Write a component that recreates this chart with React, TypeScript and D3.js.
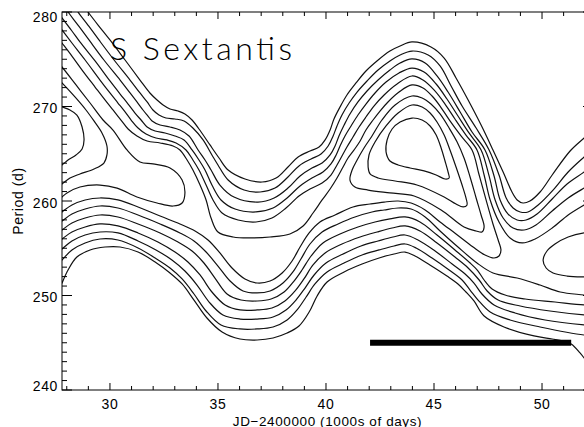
import React from 'react';
import * as d3 from 'd3';

type Pt = [number, number];

const W = 584;
const H = 427;
const frame = { left: 62, right: 593, top: 12, bottom: 390 };

const jdDomain: [number, number] = [27.78, 52.36];
const periodDomain: [number, number] = [240, 280];
const jdTicks = [30, 35, 40, 45, 50];
const periodTicks = [240, 250, 260, 270, 280];
const jdMinor = d3.range(28, 53).filter((v) => !jdTicks.includes(v));
const periodMinor = d3.range(241, 280).filter((v) => !periodTicks.includes(v));

const title = 'S Sextantis';
const xTitle = 'JD\u22122400000 (1000s of days)';
const yTitle = 'Period (d)';

// contour traces, [JD-2400000 (1000s), period (d)]
const upper1: Pt[] = [[28.80,280.53],[28.98,280.00],[29.45,278.62],[30.00,277.04],[30.70,274.92],[31.39,272.80],[31.85,271.43],[32.18,270.69],[32.46,270.16],[32.78,269.74],[33.15,269.52],[33.47,269.21],[33.80,268.57],[34.22,267.30],[34.63,265.93],[35.05,264.55],[35.47,263.28],[36.25,262.33],[37.04,262.01],[37.69,262.43],[38.24,263.60],[38.71,264.66],[39.26,265.29],[39.68,265.71],[39.96,266.46],[40.19,267.51],[40.37,268.68],[40.65,269.95],[40.97,271.22],[41.39,272.49],[41.85,273.76],[42.36,274.82],[42.96,275.87],[43.43,276.40],[43.98,276.83],[44.86,276.30],[45.47,275.13],[46.02,273.02],[46.58,270.69],[47.18,268.04],[47.73,265.40],[48.20,263.07],[48.61,260.95],[48.85,260.11],[49.12,259.79],[49.44,260.00],[49.91,260.95],[50.47,262.75],[51.30,265.29],[51.95,266.67],[52.69,268.15]];
const upper2: Pt[] = [[28.34,280.74],[28.52,280.00],[28.98,278.62],[29.49,277.04],[30.19,274.92],[30.93,272.80],[31.39,271.43],[31.72,270.48],[31.99,269.63],[32.27,269.10],[32.59,268.78],[33.01,268.68],[33.43,268.47],[33.84,267.72],[34.31,266.46],[34.72,264.87],[35.00,263.81],[35.47,262.22],[36.21,261.16],[36.95,260.95],[37.64,261.37],[38.24,262.54],[38.75,263.71],[39.31,264.45],[39.77,264.97],[40.10,265.82],[40.33,266.88],[40.51,267.94],[40.74,269.10],[41.07,270.37],[41.44,271.53],[41.90,272.70],[42.41,273.86],[42.96,274.82],[43.43,275.45],[43.98,275.87],[44.73,275.45],[45.28,274.29],[45.79,272.17],[46.30,270.05],[46.95,267.72],[47.55,265.40],[48.01,262.75],[48.34,260.32],[48.66,259.26],[48.99,258.84],[49.35,258.84],[49.82,259.58],[50.51,261.16],[51.21,263.07],[51.95,264.66],[52.69,266.14]];
const upper3: Pt[] = [[27.87,280.74],[28.06,280.00],[28.52,278.62],[29.03,277.04],[29.72,274.92],[30.47,272.80],[30.93,271.43],[31.25,270.48],[31.53,269.63],[31.76,268.99],[31.95,268.47],[32.32,268.04],[32.78,267.83],[33.24,267.51],[33.66,266.88],[34.08,265.40],[34.40,264.34],[34.68,263.28],[35.09,261.69],[35.74,260.42],[36.85,259.89],[37.60,260.32],[38.24,261.37],[38.80,262.65],[39.35,263.49],[39.82,264.02],[40.19,264.87],[40.42,265.82],[40.60,266.88],[40.84,268.04],[41.11,269.21],[41.48,270.48],[41.90,271.64],[42.41,272.80],[42.96,273.86],[43.43,274.60],[43.98,275.03],[44.59,274.60],[45.14,273.23],[45.65,271.53],[46.21,269.42],[46.76,267.30],[47.36,265.40],[47.78,262.65],[48.06,260.11],[48.43,258.62],[48.85,257.99],[49.26,257.99],[49.77,258.62],[50.47,260.21],[51.16,261.80],[51.95,263.07],[52.69,264.34]];
const upper4: Pt[] = [[27.46,280.31],[27.78,279.37],[28.24,277.99],[28.61,276.83],[29.31,274.82],[30.00,272.70],[30.47,271.32],[30.84,270.26],[31.16,269.31],[31.44,268.57],[31.72,267.83],[32.09,267.41],[32.55,267.20],[33.01,266.88],[33.43,266.46],[33.80,265.40],[34.12,264.34],[34.40,263.28],[34.72,261.69],[35.14,260.11],[35.79,259.15],[36.76,258.84],[37.55,259.26],[38.20,260.32],[38.80,261.59],[39.35,262.43],[39.86,263.07],[40.23,263.92],[40.47,264.87],[40.65,265.82],[40.88,266.88],[41.16,267.94],[41.48,269.10],[41.85,270.26],[42.27,271.43],[42.78,272.59],[43.38,273.55],[43.98,274.07],[44.54,273.65],[45.10,272.38],[45.60,270.79],[46.11,268.99],[46.62,267.20],[47.18,265.40],[47.55,262.65],[47.83,260.11],[48.20,258.20],[48.66,257.14],[49.17,256.93],[49.72,257.46],[50.47,258.94],[51.21,260.32],[51.95,261.37],[52.69,262.33]];
const upper5: Pt[] = [[27.46,279.05],[27.78,278.10],[28.24,276.72],[28.85,274.92],[29.54,272.80],[30.00,271.43],[30.37,270.37],[30.70,269.42],[30.98,268.57],[31.30,267.72],[31.67,267.09],[32.13,266.67],[32.64,266.46],[33.06,266.14],[33.52,265.40],[33.84,264.34],[34.12,263.28],[34.45,261.69],[34.77,260.11],[35.19,258.73],[35.93,257.99],[36.76,257.78],[37.50,258.20],[38.15,259.26],[38.75,260.53],[39.26,261.27],[39.82,261.90],[40.23,262.75],[40.51,263.81],[40.74,264.76],[40.97,265.71],[41.25,266.77],[41.53,267.83],[41.85,268.89],[42.22,270.05],[42.69,271.22],[43.29,272.38],[43.98,273.23],[44.49,272.80],[45.00,271.75],[45.51,270.26],[45.97,268.68],[46.48,266.98],[46.99,265.40],[47.32,262.75],[47.60,260.11],[48.01,257.78],[48.52,256.09],[49.08,255.56],[49.68,255.98],[50.47,257.14],[51.21,258.52],[51.95,259.58],[52.69,260.53]];
// wraps round the central maximum: upper side, tip near 48, lower side back to the left edge
const ridge: Pt[] = [[27.46,277.67],[27.78,276.72],[28.24,275.34],[28.71,273.86],[29.31,272.06],[29.77,270.69],[30.14,269.63],[30.51,268.57],[30.84,267.62],[31.25,266.88],[31.72,266.35],[32.32,266.14],[32.92,265.82],[33.24,265.40],[33.57,264.34],[33.84,263.28],[34.17,261.69],[34.45,260.11],[34.68,258.20],[35.00,256.72],[35.70,256.19],[36.48,256.09],[37.41,256.19],[38.33,256.51],[38.94,257.36],[39.40,258.73],[39.82,260.11],[40.19,261.27],[40.51,262.43],[40.79,263.60],[41.02,264.55],[41.30,265.40],[41.58,266.35],[41.85,267.51],[42.18,268.57],[42.50,269.52],[42.87,270.48],[43.38,271.53],[43.98,272.28],[44.49,271.96],[44.91,271.11],[45.28,270.05],[45.74,268.47],[46.25,266.88],[46.76,265.40],[47.09,262.75],[47.41,260.11],[47.73,257.57],[47.97,255.87],[48.10,254.82],[48.01,254.18],[47.78,253.97],[47.36,254.29],[46.81,255.13],[46.02,256.51],[45.28,257.78],[44.59,259.05],[43.94,259.79],[43.34,260.00],[42.69,259.89],[42.04,259.68],[41.25,259.37],[40.42,258.52],[39.72,257.78],[39.22,256.62],[38.80,255.13],[38.43,253.65],[37.97,252.38],[37.41,251.53],[36.81,251.32],[36.25,251.75],[35.65,252.91],[35.09,254.50],[34.54,255.87],[33.94,256.83],[33.24,257.57],[32.32,258.41],[31.30,259.37],[30.37,260.11],[29.54,260.32],[28.85,260.11],[28.24,259.58],[27.78,258.84],[27.46,258.31]];
const lower1: Pt[] = [[27.46,257.35],[27.78,257.88],[28.24,258.62],[28.85,259.15],[29.54,259.47],[30.37,259.26],[31.30,258.52],[32.32,257.57],[33.24,256.62],[33.89,255.77],[34.45,254.60],[35.00,253.12],[35.56,251.53],[36.16,250.48],[36.81,250.27],[37.41,250.48],[38.01,251.32],[38.47,252.49],[38.84,253.86],[39.26,255.45],[39.82,256.72],[40.56,257.57],[41.34,258.31],[42.13,258.84],[42.69,259.05],[43.34,259.26],[43.94,259.15],[44.59,258.31],[45.28,256.83],[46.11,255.13],[46.99,253.44],[47.73,252.38],[48.85,251.85],[49.91,251.11],[50.84,250.37],[51.95,250.05],[52.69,249.84]];
const lower2: Pt[] = [[27.46,256.40],[27.78,256.93],[28.24,257.67],[28.85,258.20],[29.54,258.52],[30.37,258.31],[31.30,257.57],[32.32,256.62],[33.15,255.66],[33.80,254.71],[34.35,253.44],[34.86,251.85],[35.42,250.16],[36.07,249.52],[36.81,249.42],[37.46,249.63],[38.06,250.37],[38.52,251.53],[38.89,252.70],[39.31,254.18],[39.86,255.56],[40.65,256.51],[41.48,257.25],[42.27,257.78],[42.96,258.10],[43.66,258.31],[44.35,257.78],[45.14,256.40],[45.97,254.82],[46.67,253.44],[47.04,252.59],[47.32,251.64],[47.69,250.69],[48.29,250.05],[49.22,249.63],[50.60,249.31],[51.95,249.00],[52.69,248.90]];
const lower3: Pt[] = [[27.46,255.45],[27.78,255.98],[28.24,256.72],[28.85,257.25],[29.54,257.57],[30.37,257.36],[31.30,256.62],[32.22,255.66],[33.01,254.60],[33.61,253.55],[34.17,252.17],[34.72,250.37],[35.33,249.00],[36.02,248.47],[36.81,248.47],[37.50,248.68],[38.10,249.42],[38.57,250.48],[38.98,251.75],[39.40,253.23],[39.96,254.50],[40.74,255.45],[41.58,256.19],[42.36,256.72],[43.06,257.14],[43.66,257.36],[44.35,256.83],[45.14,255.56],[45.97,254.07],[46.58,252.91],[47.09,251.64],[47.46,250.48],[47.97,249.52],[48.99,248.89],[50.37,248.36],[51.95,247.94],[52.69,247.83]];
const lower4: Pt[] = [[27.46,254.39],[27.78,254.92],[28.24,255.77],[28.85,256.40],[29.54,256.72],[30.37,256.62],[31.30,255.77],[32.13,254.82],[32.87,253.76],[33.47,252.59],[34.03,251.11],[34.59,249.31],[35.23,247.94],[36.02,247.51],[36.81,247.51],[37.55,247.73],[38.15,248.47],[38.61,249.52],[39.03,250.79],[39.45,252.17],[40.00,253.44],[40.79,254.39],[41.62,255.24],[42.41,255.77],[43.10,256.19],[43.66,256.40],[44.26,255.87],[45.05,254.71],[45.84,253.33],[46.44,252.28],[46.85,251.32],[47.22,250.16],[47.78,249.00],[48.75,248.15],[50.14,247.41],[51.95,246.88],[52.69,246.77]];
const lower5: Pt[] = [[27.46,253.12],[27.78,253.76],[28.24,254.82],[28.85,255.56],[29.54,255.98],[30.37,255.87],[31.30,255.03],[32.09,253.97],[32.78,252.91],[33.34,251.75],[33.89,250.16],[34.45,248.36],[35.14,246.88],[36.02,246.46],[36.81,246.46],[37.55,246.67],[38.20,247.41],[38.66,248.47],[39.08,249.84],[39.49,251.22],[40.05,252.49],[40.84,253.44],[41.67,254.29],[42.46,254.82],[43.15,255.24],[43.66,255.45],[44.17,255.03],[44.91,253.97],[45.70,252.70],[46.30,251.64],[46.67,250.58],[47.04,249.52],[47.60,248.25],[48.52,247.41],[49.91,246.67],[51.95,245.82],[52.69,245.72]];
const lower6: Pt[] = [[27.60,250.37],[27.78,251.32],[28.06,252.70],[28.47,254.07],[29.08,254.82],[29.77,255.13],[30.47,255.13],[31.30,254.60],[32.09,253.55],[32.78,252.38],[33.34,251.22],[33.89,249.52],[34.49,247.62],[35.19,246.14],[36.02,245.40],[36.81,245.29],[37.55,245.50],[38.20,246.03],[38.75,246.77],[39.22,248.25],[39.59,249.95],[40.05,251.43],[40.84,252.49],[41.67,253.33],[42.46,253.97],[43.15,254.39],[43.66,254.60],[44.12,254.18],[44.81,253.23],[45.60,252.06],[46.11,251.22],[46.48,250.37],[46.85,249.42],[47.32,247.83],[48.24,246.67],[49.63,245.72],[50.47,245.40],[50.97,245.19],[51.35,244.87],[51.76,243.92],[52.22,242.54],[52.59,241.27]];
const leftLoop: Pt[] = [[27.50,270.16],[27.78,269.95],[28.15,269.63],[28.47,269.10],[28.71,267.83],[28.80,266.46],[28.71,265.50],[28.43,264.87],[28.06,264.34],[27.78,263.81],[27.50,263.49]];
const leftWrap: Pt[] = [[27.50,273.12],[27.78,272.49],[28.38,271.01],[28.89,269.63],[29.26,268.47],[29.63,267.20],[29.86,265.82],[29.86,264.87],[29.72,264.02],[29.26,263.39],[28.61,262.86],[28.15,262.43],[27.78,261.80],[27.50,261.37]];
const pocket: Pt[] = [[27.50,274.92],[27.78,274.18],[28.43,272.28],[29.08,270.37],[29.68,268.57],[30.14,267.51],[30.79,265.40],[31.39,264.13],[31.99,263.92],[32.78,263.49],[33.34,262.22],[33.47,260.85],[33.34,259.79],[32.92,259.47],[32.18,259.79],[31.25,260.42],[30.33,261.37],[29.54,261.69],[28.61,261.48],[28.01,260.85],[27.78,260.42],[27.50,259.89]];
const rightLoop: Pt[] = [[52.69,256.72],[51.95,256.62],[51.21,256.19],[50.60,255.45],[50.23,254.71],[50.05,253.76],[50.19,252.91],[50.51,252.38],[51.16,252.06],[51.95,251.96],[52.69,251.96]];
// closed contours round the maximum near JD 44, P 265
const peak1: Pt[] = [[42.83,266.46],[43.06,267.62],[43.43,268.36],[43.98,268.78],[44.45,268.57],[44.82,267.94],[45.10,266.98],[45.33,265.61],[45.51,264.23],[45.65,263.07],[45.70,262.43],[45.51,262.33],[45.10,262.75],[44.54,263.18],[43.89,263.49],[43.34,263.81],[42.96,264.23],[42.78,265.19]];
const peak2: Pt[] = [[41.95,263.60],[41.99,264.87],[42.27,266.24],[42.78,267.94],[43.34,269.31],[43.98,270.16],[44.45,269.95],[44.82,269.31],[45.14,268.36],[45.47,266.98],[45.74,265.40],[46.02,263.60],[46.30,261.69],[46.48,260.32],[46.53,259.58],[46.35,259.37],[46.02,259.68],[45.47,260.42],[44.21,261.69],[43.20,262.12],[42.41,262.43],[42.04,262.86]];
const peak3: Pt[] = [[41.11,262.22],[41.21,263.28],[41.44,264.34],[41.76,265.61],[42.13,266.88],[42.59,268.57],[43.20,270.16],[43.98,271.11],[44.45,270.90],[44.86,270.26],[45.28,269.21],[45.70,267.72],[46.07,266.24],[46.39,264.55],[46.67,262.54],[46.95,260.32],[47.18,258.52],[47.32,257.25],[47.22,256.72],[46.95,256.83],[46.39,257.25],[45.33,259.05],[44.08,260.53],[42.96,260.85],[41.95,261.16],[41.34,261.48]];

const openLines = [upper1, upper2, upper3, upper4, upper5, ridge, lower1, lower2, lower3, lower4, lower5, lower6, leftLoop, leftWrap, pocket, rightLoop];
const closedLines = [peak1, peak2, peak3];

const barJd: [number, number] = [42.04, 51.35];
const barPeriod = 245;

export default function App() {
  const x = d3.scaleLinear().domain(jdDomain).range([frame.left, frame.right]);
  const y = d3.scaleLinear().domain(periodDomain).range([frame.bottom, frame.top]);
  const open = d3.line<Pt>().x((d) => x(d[0])).y((d) => y(d[1])).curve(d3.curveCatmullRom.alpha(0.5));
  const closed = d3.line<Pt>().x((d) => x(d[0])).y((d) => y(d[1])).curve(d3.curveCatmullRomClosed.alpha(0.5));

  const labelFont = "'Liberation Sans', Arial, Helvetica, sans-serif";
  // IDL keeps the end labels inside the axis span
  const yLabelBase = (v: number) => Math.min(Math.max(y(v) + 6.5, frame.top + 10), frame.bottom + 1);

  return (
    <svg width={W} height={H} style={{ position: 'absolute', left: 0, top: 0, background: '#fff' }}>
      <defs>
        <clipPath id="plotArea">
          <rect x={frame.left} y={frame.top} width={frame.right - frame.left} height={frame.bottom - frame.top} />
        </clipPath>
      </defs>
      <rect width={W} height={H} fill="#fff" />

      <g clipPath="url(#plotArea)" fill="none" stroke="#111" strokeWidth={1.2}>
        {openLines.map((l, i) => (
          <path key={'o' + i} d={open(l) || ''} />
        ))}
        {closedLines.map((l, i) => (
          <path key={'c' + i} d={closed(l) || ''} />
        ))}
      </g>

      <line x1={x(barJd[0])} x2={x(barJd[1])} y1={y(barPeriod)} y2={y(barPeriod)} stroke="#000" strokeWidth={6} />

      <g stroke="#000" strokeWidth={1} fill="none">
        <rect x={frame.left} y={frame.top} width={frame.right - frame.left} height={frame.bottom - frame.top} />
        {jdTicks.map((t) => (
          <g key={'xm' + t}>
            <line x1={x(t)} x2={x(t)} y1={frame.bottom} y2={frame.bottom - 7} />
            <line x1={x(t)} x2={x(t)} y1={frame.top} y2={frame.top + 7} />
          </g>
        ))}
        {jdMinor.map((t) => (
          <g key={'xn' + t}>
            <line x1={x(t)} x2={x(t)} y1={frame.bottom} y2={frame.bottom - 4} />
            <line x1={x(t)} x2={x(t)} y1={frame.top} y2={frame.top + 4} />
          </g>
        ))}
        {periodTicks.map((t) => (
          <g key={'ym' + t}>
            <line x1={frame.left} x2={frame.left + 10} y1={y(t)} y2={y(t)} />
            <line x1={frame.right} x2={frame.right - 10} y1={y(t)} y2={y(t)} />
          </g>
        ))}
        {periodMinor.map((t) => (
          <g key={'yn' + t}>
            <line x1={frame.left} x2={frame.left + 5} y1={y(t)} y2={y(t)} />
            <line x1={frame.right} x2={frame.right - 5} y1={y(t)} y2={y(t)} />
          </g>
        ))}
      </g>

      <g fontFamily={labelFont} fontSize={14} fill="#000" letterSpacing={0.6}>
        {jdTicks.map((t) => (
          <text key={'xl' + t} x={x(t)} y={408.5} textAnchor="middle">
            {t}
          </text>
        ))}
        {periodTicks.map((t) => (
          <text key={'yl' + t} x={58} y={yLabelBase(t)} textAnchor="end">
            {t}
          </text>
        ))}
        <text x={(frame.left + frame.right) / 2} y={425.5} textAnchor="middle" fontSize={13.5}>
          {xTitle}
        </text>
        <text transform={`translate(23, ${(frame.top + frame.bottom) / 2}) rotate(-90)`} textAnchor="middle">
          {yTitle}
        </text>
      </g>

      <text
        x={110}
        y={60}
        fontFamily="Lato, 'DejaVu Sans', sans-serif"
        fontWeight={300}
        fontSize={32}
        textLength={182}
        lengthAdjust="spacing"
        fill="#000"
      >
        {title}
      </text>
    </svg>
  );
}
